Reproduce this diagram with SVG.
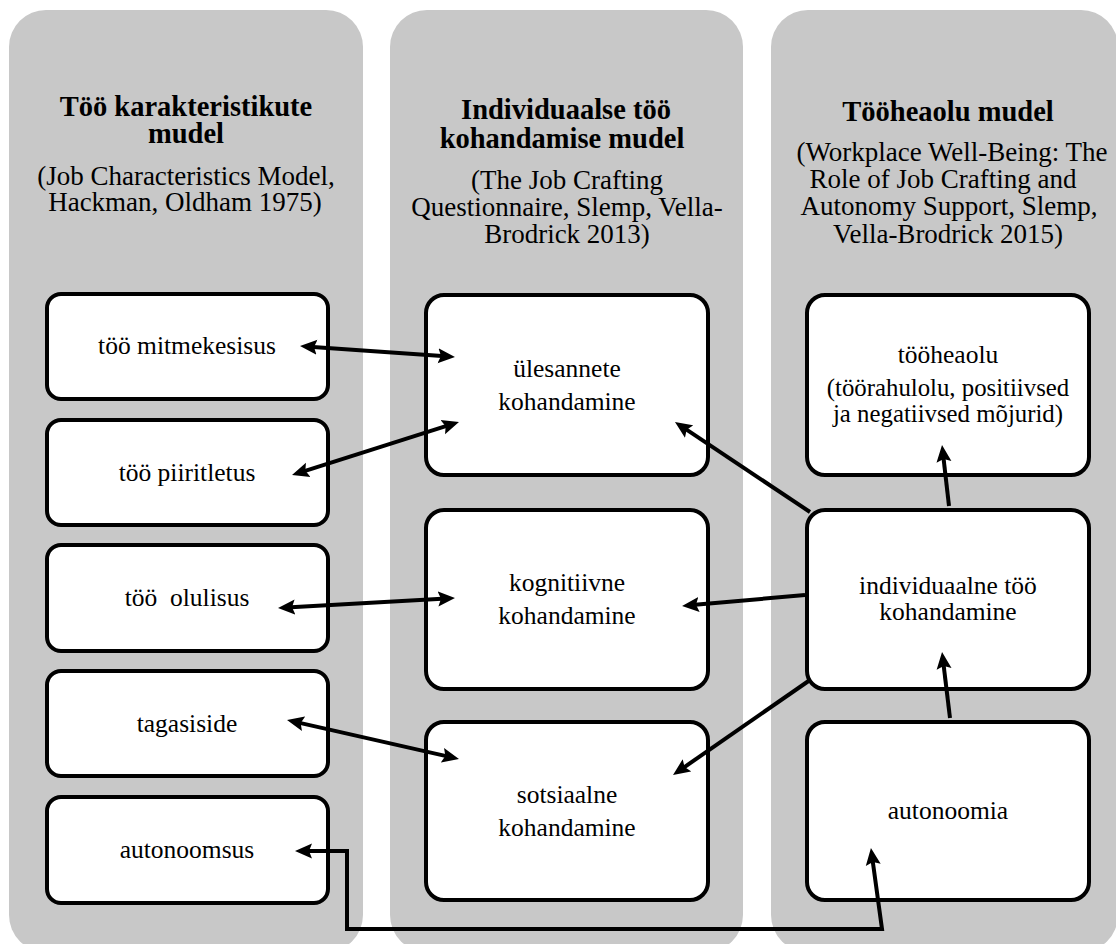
<svg xmlns="http://www.w3.org/2000/svg" width="1116" height="944" viewBox="0 0 1116 944">
<style>
.col{fill:#c8c8c8}
.box{fill:#fff;stroke:#000;stroke-width:4}
.t{font-family:"Liberation Serif","Times New Roman",serif;font-size:25.5px;fill:#000;text-anchor:middle}
.h{font-family:"Liberation Serif","Times New Roman",serif;font-size:27px;fill:#000;text-anchor:middle}
.hb{font-family:"Liberation Serif","Times New Roman",serif;font-size:28.5px;font-weight:bold;fill:#000;text-anchor:middle}
.s{font-size:24.8px}
.c{fill:none;stroke:#000;stroke-width:4}
</style>
<defs>
<marker id="ah" markerUnits="userSpaceOnUse" markerWidth="18" markerHeight="16" refX="4" refY="7.5" orient="auto-start-reverse" viewBox="0 0 18 15">
<path d="M0,0 L17,7.5 L0,15 L3,7.5 z" fill="#000"/>
</marker>
</defs>
<g id="columns">
<rect class="col" x="9" y="10" width="354" height="942" rx="37"/>
<rect class="col" x="390" y="10" width="353" height="942" rx="37"/>
<rect class="col" x="771" y="10" width="347" height="942" rx="37"/>
</g>
<g id="header1">
<text class="hb" x="186" y="116">Töö karakteristikute</text>
<text class="hb" x="186" y="143">mudel</text>
<text class="h" x="186" y="185">(Job Characteristics Model,</text>
<text class="h" x="185" y="211">Hackman, Oldham 1975)</text>
</g>
<g id="header2">
<text class="hb" x="566" y="119">Individuaalse töö</text>
<text class="hb" x="562" y="148">kohandamise mudel</text>
<text class="h" x="567" y="189">(The Job Crafting</text>
<text class="h" x="567" y="216">Questionnaire, Slemp, Vella-</text>
<text class="h" x="567" y="243">Brodrick 2013)</text>
</g>
<g id="header3">
<text class="hb" x="948" y="121">Tööheaolu mudel</text>
<text class="h" x="952" y="161">(Workplace Well-Being: The</text>
<text class="h" x="943" y="188">Role of Job Crafting and</text>
<text class="h" x="949" y="215">Autonomy Support, Slemp,</text>
<text class="h" x="948" y="243">Vella-Brodrick 2015)</text>
</g>
<g id="n-mitmekesisus">
<rect class="box" x="47" y="294" width="281" height="105" rx="14"/>
<text class="t" x="187" y="354">töö mitmekesisus</text>
</g>
<g id="n-piiritletus">
<rect class="box" x="47" y="420" width="281" height="105" rx="14"/>
<text class="t" x="187" y="481">töö piiritletus</text>
</g>
<g id="n-olulisus">
<rect class="box" x="47" y="545" width="281" height="106" rx="14"/>
<text class="t" x="187" y="606">töö&#160; olulisus</text>
</g>
<g id="n-tagasiside">
<rect class="box" x="47" y="671" width="281" height="105" rx="14"/>
<text class="t" x="187" y="732">tagasiside</text>
</g>
<g id="n-autonoomsus">
<rect class="box" x="47" y="797" width="281" height="106" rx="14"/>
<text class="t" x="187" y="858">autonoomsus</text>
</g>
<g id="n-ulesannete">
<rect class="box" x="426" y="295" width="282" height="180" rx="18"/>
<text class="t" x="567" y="377">ülesannete</text>
<text class="t" x="567" y="410">kohandamine</text>
</g>
<g id="n-kognitiivne">
<rect class="box" x="426" y="510" width="282" height="179" rx="18"/>
<text class="t" x="567" y="591">kognitiivne</text>
<text class="t" x="567" y="624">kohandamine</text>
</g>
<g id="n-sotsiaalne">
<rect class="box" x="426" y="722" width="282" height="178" rx="18"/>
<text class="t" x="567" y="803">sotsiaalne</text>
<text class="t" x="567" y="836">kohandamine</text>
</g>
<g id="n-tooheaolu">
<rect class="box" x="807" y="295" width="282" height="180" rx="18"/>
<text class="t" x="948" y="363">tööheaolu</text>
<text class="t s" x="948" y="396">(töörahulolu, positiivsed</text>
<text class="t s" x="948" y="422">ja negatiivsed mõjurid)</text>
</g>
<g id="n-individuaalne">
<rect class="box" x="807" y="510" width="282" height="179" rx="18"/>
<text class="t" x="948" y="594">individuaalne töö</text>
<text class="t" x="948" y="620">kohandamine</text>
</g>
<g id="n-autonoomia">
<rect class="box" x="807" y="722" width="282" height="178" rx="18"/>
<text class="t" x="948" y="819">autonoomia</text>
</g>
<g id="connectors">
<line class="c" x1="313" y1="346.9" x2="442" y2="356.1" marker-start="url(#ah)" marker-end="url(#ah)"/>
<line class="c" x1="304.4" y1="471.1" x2="446.6" y2="425.9" marker-start="url(#ah)" marker-end="url(#ah)"/>
<line class="c" x1="291" y1="607.3" x2="442" y2="598.7" marker-start="url(#ah)" marker-end="url(#ah)"/>
<line class="c" x1="299.7" y1="722.9" x2="446.3" y2="756.1" marker-start="url(#ah)" marker-end="url(#ah)"/>
<polyline class="c" points="308,851 347,851 347,929 882,929 872.7,860.9" marker-start="url(#ah)" marker-end="url(#ah)"/>
<line class="c" x1="810" y1="512" x2="685.8" y2="429.2" marker-end="url(#ah)"/>
<line class="c" x1="805" y1="595" x2="695" y2="604.8" marker-end="url(#ah)"/>
<line class="c" x1="810" y1="680" x2="683.7" y2="767.6" marker-end="url(#ah)"/>
<line class="c" x1="949" y1="506" x2="943.5" y2="457.9" marker-end="url(#ah)"/>
<line class="c" x1="950" y1="718" x2="943.6" y2="664.9" marker-end="url(#ah)"/>
</g>
</svg>
